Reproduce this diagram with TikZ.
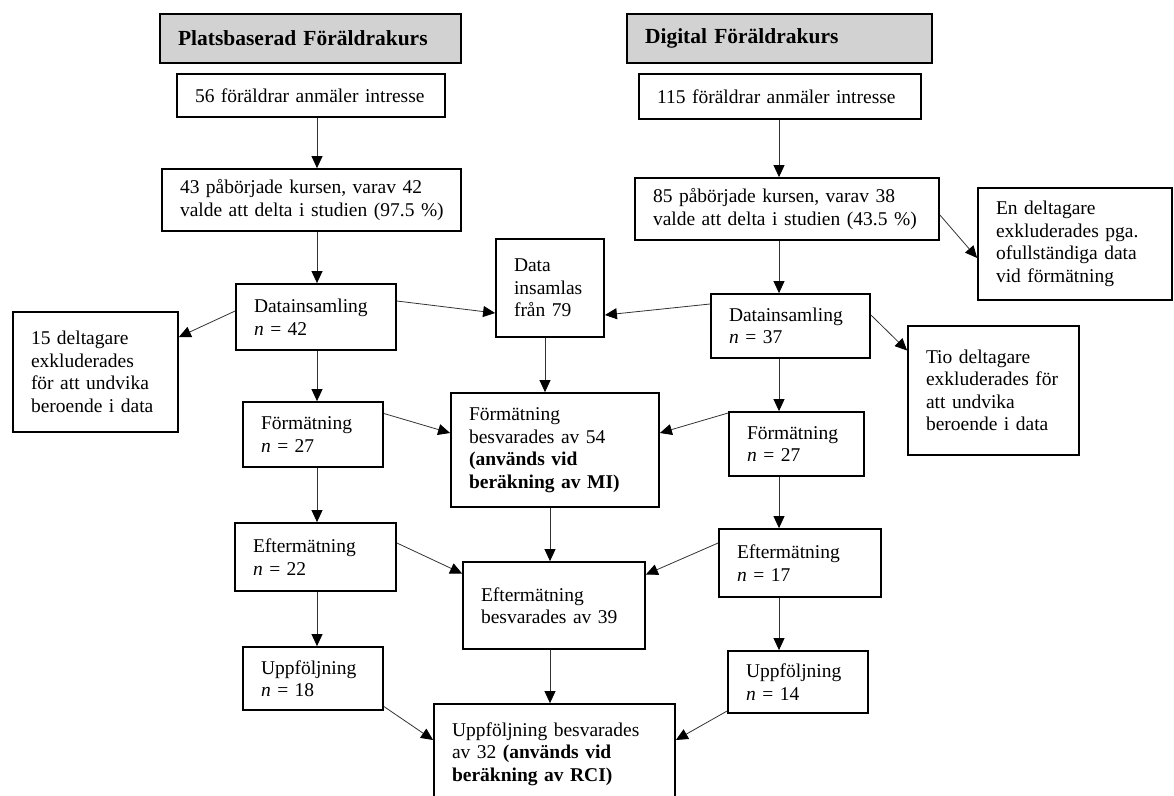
\documentclass[tikz,border=0pt]{standalone}
\usepackage{fontspec}
\setmainfont{Liberation Serif}
\usetikzlibrary{arrows.meta}
\newcommand\bodyfnt{\fontsize{19.5}{22.5}\selectfont}
\newcommand\titlefnt{\fontsize{21.5}{24}\selectfont\bfseries}
\begin{document}
\begin{tikzpicture}[x=1pt,y=-1pt,
  box/.style={draw=black, line width=1.8pt, inner xsep=18pt, inner ysep=0pt, align=left, font=\bodyfnt},
  titlebox/.style={box, fill=gray!35, font=\titlefnt},
  arr/.style={draw=black!80, line width=0.8pt, -{Triangle[length=12pt,width=11pt,fill=black,color=black]}}
]
\useasboundingbox (0,0) rectangle (1174,795);
\fill[white] (0,0) rectangle (1174,795);
\clip (0,0) rectangle (1174,795);

% titles
\node[titlebox, minimum width=301pt, text width=265pt, minimum height=49pt] (tP) at (310.5,38.5) {\mbox{Platsbaserad Föräldrakurs}};
\node[titlebox, minimum width=305pt, text width=269pt, minimum height=49pt] (tD) at (779.5,38.5) {\mbox{Digital Föräldrakurs}};

% top
\node[box, minimum width=268pt, text width=232pt, minimum height=43pt] (b56) at (311,95.5) {\mbox{56 föräldrar anmäler intresse}};
\node[box, minimum width=282pt, text width=246pt, minimum height=45pt] (b115) at (780,96.5) {\mbox{115 föräldrar anmäler intresse}};
\node[box, minimum width=299pt, text width=263pt, minimum height=62pt] (b43) at (311.5,200) {\mbox{43 påbörjade kursen, varav 42}\\\mbox{valde att delta i studien (97.5 \%)}};
\node[box, minimum width=304pt, text width=268pt, minimum height=62pt] (b85) at (787,209) {\mbox{85 påbörjade kursen, varav 38}\\\mbox{valde att delta i studien (43.5 \%)}};
\node[box, minimum width=194pt, text width=158pt, minimum height=112pt] (bEn) at (1075,244) {En deltagare\\\mbox{exkluderades pga.}\\\mbox{ofullständiga data}\\\mbox{vid förmätning}};

% data collection
\node[box, minimum width=160pt, text width=124pt, minimum height=66pt] (dataL) at (316,317) {Datainsamling\\\textit{n} = 42};
\node[box, minimum width=108pt, text width=72pt, minimum height=98pt] (dataC) at (550,288) {Data\\insamlas\\\mbox{från 79}};
\node[box, minimum width=159pt, text width=123pt, minimum height=64pt] (dataR) at (790.5,326) {Datainsamling\\\textit{n} = 37};
\node[box, minimum width=165pt, text width=129pt, minimum height=120pt] (ex15) at (95.5,372) {15 deltagare\\exkluderades\\\mbox{för att undvika}\\\mbox{beroende i data}};
\node[box, minimum width=171pt, text width=135pt, minimum height=129pt] (tio) at (993.5,390.5) {Tio deltagare\\\mbox{exkluderades för}\\att undvika\\\mbox{beroende i data}};

% pre-measurement
\node[box, minimum width=140pt, text width=104pt, minimum height=65pt] (formL) at (313,434.5) {Förmätning\\\textit{n} = 27};
\node[box, minimum width=208pt, text width=172pt, minimum height=114pt] (formC) at (555,450) {Förmätning\\\mbox{besvarades av 54}\\\textbf{(används vid}\\\mbox{\textbf{beräkning av MI)}}};
\node[box, minimum width=135pt, text width=99pt, minimum height=64pt] (formR) at (796.5,444) {Förmätning\\\textit{n} = 27};

% post-measurement
\node[box, minimum width=161pt, text width=125pt, minimum height=68pt] (efterL) at (315.5,557) {Eftermätning\\\textit{n} = 22};
\node[box, minimum width=182pt, text width=146pt, minimum height=87pt] (efterC) at (554,605.5) {Eftermätning\\\mbox{besvarades av 39}};
\node[box, minimum width=162pt, text width=126pt, minimum height=68pt] (efterR) at (800,563) {Eftermätning\\\textit{n} = 17};

% follow-up
\node[box, minimum width=140pt, text width=104pt, minimum height=63pt] (uppL) at (313,678.5) {Uppföljning\\\textit{n} = 18};
\node[box, minimum width=241pt, text width=205pt, minimum height=100pt] (uppC) at (554.5,754) {\mbox{Uppföljning besvarades}\\\mbox{av 32 \textbf{(används vid}}\\\mbox{\textbf{beräkning av RCI)}}};
\node[box, minimum width=140pt, text width=104pt, minimum height=62pt] (uppR) at (798,682) {Uppföljning\\\textit{n} = 14};

% column x positions
\coordinate (cL) at (317,0);
\coordinate (cR) at (779,0);
\coordinate (cC) at (545,0);
\coordinate (cD) at (550,0);

% vertical arrows
\draw[arr] (b56.south -| cL) -- (b43.north -| cL);
\draw[arr] (b43.south -| cL) -- (dataL.north -| cL);
\draw[arr] (dataL.south -| cL) -- (formL.north -| cL);
\draw[arr] (formL.south -| cL) -- (efterL.north -| cL);
\draw[arr] (efterL.south -| cL) -- (uppL.north -| cL);

\draw[arr] (b115.south -| cR) -- (b85.north -| cR);
\draw[arr] (b85.south -| cR) -- (dataR.north -| cR);
\draw[arr] (dataR.south -| cR) -- (formR.north -| cR);
\draw[arr] (formR.south -| cR) -- (efterR.north -| cR);
\draw[arr] (efterR.south -| cR) -- (uppR.north -| cR);

\draw[arr] (dataC.south -| cC) -- (formC.north -| cC);
\draw[arr] (formC.south -| cD) -- (efterC.north -| cD);
\draw[arr] (efterC.south -| cD) -- (uppC.north -| cD);

% diagonal arrows
\draw[arr] ([yshift=-6pt]b85.east) -- ([yshift=-14pt]bEn.west);
\draw[arr] ([yshift=6pt]dataL.west) -- ([yshift=35pt]ex15.east);
\draw[arr] ([yshift=16pt]dataL.east) -- ([yshift=-25pt]dataC.west);
\draw[arr] ([yshift=22pt]dataR.west) -- ([yshift=-27pt]dataC.east);
\draw[arr] ([yshift=11pt]dataR.east) -- ([yshift=40pt]tio.west);
\draw[arr] ([yshift=21pt]formL.east) -- ([yshift=17pt]formC.west);
\draw[arr] ([yshift=31pt]formR.west) -- ([yshift=17pt]formC.east);
\draw[arr] ([yshift=14pt]efterL.east) -- ([yshift=32pt]efterC.west);
\draw[arr] ([yshift=20pt]efterR.west) -- ([yshift=31pt]efterC.east);
\draw[arr] ([yshift=-28pt]uppL.east) -- ([yshift=14pt]uppC.west);
\draw[arr] ([yshift=-29pt]uppR.west) -- ([yshift=14pt]uppC.east);
\end{tikzpicture}
\end{document}
